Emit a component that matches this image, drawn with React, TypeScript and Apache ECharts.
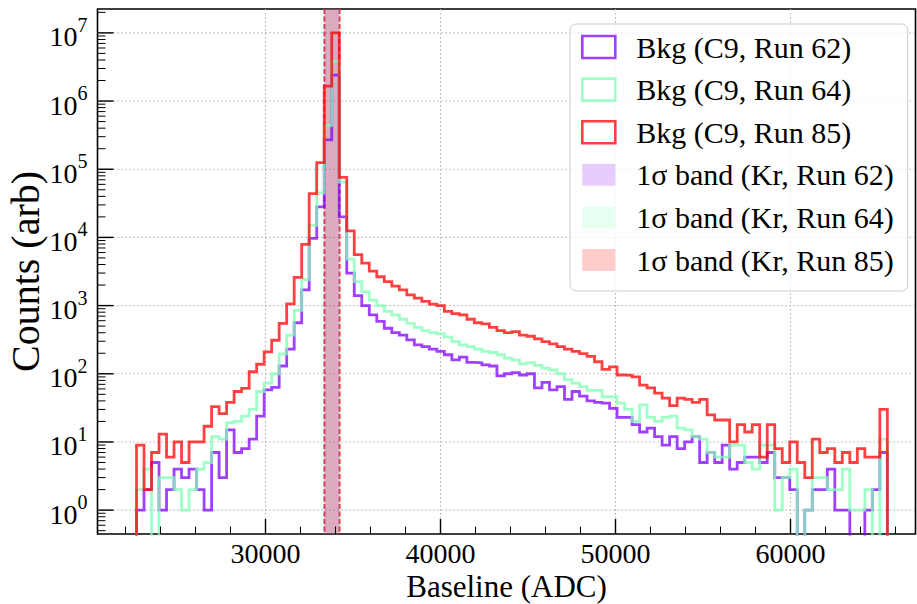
import React, { useEffect, useRef } from 'react';
import * as echarts from 'echarts';

const FONT = '"Liberation Serif", "Times New Roman", serif';

// histogram binning (100 bins between min and max baseline)
const binLow = 22629;
const binHigh = 65535;
const binCount = 100;

// counts per bin
const bkgRun62 = [
  1, 2, 5, 1, 2, 4, 3, 4, 2, 1,
  7, 3, 15, 7, 8, 11, 24, 58, 63, 130,
  230, 560, 1700, 9700, 28000, 270000, 2400000, 20000, 3000, 1400,
  1000, 730, 585, 465, 400, 370, 315, 265, 250, 230,
  213, 190, 160, 175, 147, 145, 135, 130, 93, 100,
  104, 96, 100, 62, 75, 58, 65, 42, 55, 47,
  40, 38, 37, 31, 23, 23, 18, 14, 16, 12,
  9, 12, 8, 10, 12, 5, 7, 5, 9, 4,
  5, 6, 6, 5, 7, 3, 3, 2, 0, 1,
  2, 2, 4, 1, 1, 0, 0, 1, 2, 7,
];
const bkgRun64 = [
  2, 4, 0, 3, 3, 2, 1, 2, 4, 5,
  12, 11, 19, 20, 24, 30, 55, 73, 100, 195,
  370, 850, 2400, 15000, 45000, 440000, 3800000, 65000, 4800, 2240,
  1600, 1200, 1000, 820, 730, 630, 550, 480, 430, 400,
  385, 345, 297, 265, 250, 230, 213, 205, 190, 170,
  160, 140, 145, 133, 121, 114, 100, 82, 73, 65,
  57, 57, 46, 46, 37, 30, 20, 35, 23, 20,
  23, 24, 16, 15, 12, 11, 7, 6, 6, 9,
  9, 5, 4, 9, 9, 1, 3, 4, 0, 1,
  3, 3, 2, 2, 4, 1, 1, 2, 0, 11,
];
const bkgRun85 = [
  9, 2, 7, 13, 6, 10, 5, 10, 10, 17,
  33, 26, 38, 55, 61, 107, 138, 210, 310, 550,
  1060, 2600, 7900, 44000, 125000, 1650000, 10000000, 76000, 12500, 5600,
  4200, 3200, 2650, 2250, 1930, 1700, 1440, 1290, 1150, 1050,
  1000, 820, 760, 730, 630, 560, 540, 480, 430, 400,
  415, 370, 355, 325, 297, 275, 250, 230, 213, 197,
  180, 150, 116, 126, 96, 95, 90, 68, 62, 52,
  44, 34, 44, 42, 38, 42, 25, 21, 21, 10,
  18, 14, 18, 6, 18, 8, 5, 10, 5, 3,
  11, 7, 8, 5, 7, 5, 8, 6, 6, 30,
];

// 1 sigma Kr bands [low, high]
const bandRun62 = [33340, 34200];
const bandRun64 = [33355, 34215];
const bandRun85 = [33380, 34250];

const histNames = ['Bkg (C9, Run 62)', 'Bkg (C9, Run 64)', 'Bkg (C9, Run 85)'];
const bandNames = ['1σ band (Kr, Run 62)', '1σ band (Kr, Run 64)', '1σ band (Kr, Run 85)'];
const runColors = ['#8000ff', '#80ffb4', '#ff0000'];

const xLabelTicks = [30000, 40000, 50000, 60000];
const xMinorTicks = [22000, 24000, 26000, 28000, 32000, 34000, 36000, 38000, 42000, 44000, 46000, 48000, 52000, 54000, 56000, 58000, 62000, 64000, 66000];
const yDecades = [0, 1, 2, 3, 4, 5, 6, 7];
const yMinorDecades = [-1, 0, 1, 2, 3, 4, 5, 6, 7];
const yMinorMantissas = [2, 3, 4, 5, 6, 7, 8, 9];

const X_MIN = 20400;
const X_MAX = 67143;
const Y_MIN_LOG = -0.35;
const Y_MAX_LOG = 7.35;
const FLOOR_LOG = -3;

function rgba(hex: string, a: number) {
  const r = parseInt(hex.slice(1, 3), 16);
  const g = parseInt(hex.slice(3, 5), 16);
  const b = parseInt(hex.slice(5, 7), 16);
  return `rgba(${r},${g},${b},${a})`;
}

function edge(i: number) {
  return binLow + ((binHigh - binLow) * i) / binCount;
}

function lg(v: number) {
  return v > 0 ? Math.log10(v) : FLOOR_LOG;
}

function stepPoints(vals: number[]) {
  const pts: number[][] = [[edge(0), FLOOR_LOG]];
  vals.forEach((v, i) => {
    pts.push([edge(i), lg(v)]);
    pts.push([edge(i + 1), lg(v)]);
  });
  pts.push([edge(vals.length), FLOOR_LOG]);
  return pts;
}

export default function App() {
  const ref = useRef<HTMLDivElement>(null);

  useEffect(() => {
    if (!ref.current) return;
    const chart = echarts.init(ref.current, undefined, { renderer: 'svg' });

    const hists = [bkgRun62, bkgRun64, bkgRun85];
    const bands = [bandRun62, bandRun64, bandRun85];

    const gridSeries = {
      type: 'custom',
      name: 'grid-lines',
      silent: true,
      z: 0,
      data: [[X_MIN, Y_MIN_LOG]],
      renderItem: (params: any, api: any) => {
        const cs = params.coordSys;
        const children: any[] = [];
        const dot = { stroke: '#b0b0b0', lineWidth: 1.1, lineDash: [1.4, 2.6] };
        xLabelTicks.forEach((v) => {
          const px = api.coord([v, 0])[0];
          children.push({ type: 'line', shape: { x1: px, y1: cs.y, x2: px, y2: cs.y + cs.height }, style: dot });
        });
        yDecades.forEach((d) => {
          const py = api.coord([X_MIN, d])[1];
          children.push({ type: 'line', shape: { x1: cs.x, y1: py, x2: cs.x + cs.width, y2: py }, style: dot });
        });
        return { type: 'group', children };
      },
    };

    const tickSeries = {
      type: 'custom',
      name: 'ticks',
      silent: true,
      z: 6,
      data: [[X_MIN, Y_MIN_LOG]],
      renderItem: (params: any, api: any) => {
        const cs = params.coordSys;
        const bottom = cs.y + cs.height;
        const children: any[] = [];
        const tick = { stroke: '#000', lineWidth: 1.4 };
        const minor = { stroke: '#000', lineWidth: 1.0 };
        xLabelTicks.forEach((v) => {
          const px = api.coord([v, 0])[0];
          children.push({ type: 'line', shape: { x1: px, y1: bottom, x2: px, y2: bottom - 15 }, style: tick });
        });
        xMinorTicks.forEach((v) => {
          const px = api.coord([v, 0])[0];
          children.push({ type: 'line', shape: { x1: px, y1: bottom, x2: px, y2: bottom - 7.5 }, style: minor });
        });
        yDecades.forEach((d) => {
          const py = api.coord([X_MIN, d])[1];
          children.push({ type: 'line', shape: { x1: cs.x, y1: py, x2: cs.x + 16, y2: py }, style: tick });
        });
        yMinorDecades.forEach((d) => {
          yMinorMantissas.forEach((m) => {
            const l = d + Math.log10(m);
            if (l < Y_MIN_LOG || l > Y_MAX_LOG) return;
            const py = api.coord([X_MIN, l])[1];
            children.push({ type: 'line', shape: { x1: cs.x, y1: py, x2: cs.x + 8, y2: py }, style: minor });
          });
        });
        return { type: 'group', children };
      },
    };

    const bandSeries = bands.map((b, i) => ({
      type: 'custom',
      name: bandNames[i],
      silent: true,
      z: 1,
      itemStyle: { color: rgba(runColors[i], 0.2) },
      data: [[b[0], b[1]]],
      renderItem: (params: any, api: any) => {
        const cs = params.coordSys;
        const x0 = api.coord([api.value(0), 0])[0];
        const x1 = api.coord([api.value(1), 0])[0];
        const edgeStyle = { stroke: rgba(runColors[i], i === 2 ? 0.7 : 0.55), lineWidth: 1.5, lineDash: [5, 2.5] };
        return {
          type: 'group',
          children: [
            { type: 'rect', shape: { x: x0, y: cs.y, width: x1 - x0, height: cs.height }, style: { fill: rgba(runColors[i], 0.2) } },
            { type: 'line', shape: { x1: x0, y1: cs.y, x2: x0, y2: cs.y + cs.height }, style: edgeStyle },
            { type: 'line', shape: { x1: x1, y1: cs.y, x2: x1, y2: cs.y + cs.height }, style: edgeStyle },
          ],
        };
      },
    }));

    const lineSeries = hists.map((h, i) => ({
      type: 'line',
      name: histNames[i],
      data: stepPoints(h),
      showSymbol: false,
      symbol: 'none',
      silent: true,
      clip: true,
      z: 3,
      itemStyle: { color: rgba(runColors[i], 0.75) },
      lineStyle: { color: runColors[i], opacity: 0.75, width: 2.8, join: 'miter', cap: 'butt' },
      emphasis: { disabled: true },
    }));

    const option: any = {
      animation: false,
      textStyle: { fontFamily: FONT },
      grid: {
        left: 97.5,
        top: 9,
        width: 818,
        height: 525,
        show: true,
        containLabel: false,
        outerBoundsMode: 'none',
        borderColor: '#000',
        borderWidth: 1.6,
        backgroundColor: 'transparent',
      },
      xAxis: {
        type: 'value',
        min: X_MIN,
        max: X_MAX,
        name: 'Baseline (ADC)',
        nameLocation: 'middle',
        nameGap: 38,
        nameMoveOverlap: false,
        nameTextStyle: { fontFamily: FONT, fontSize: 31, lineHeight: 28, color: '#000' },
        axisLine: { show: false },
        axisTick: { show: false },
        splitLine: { show: false },
        axisLabel: {
          customValues: xLabelTicks,
          formatter: (v: number) => String(v),
          fontFamily: FONT,
          fontSize: 28,
          lineHeight: 26,
          color: '#000',
          margin: 6,
        },
      },
      yAxis: {
        type: 'value',
        min: Y_MIN_LOG,
        max: Y_MAX_LOG,
        name: 'Counts (arb)',
        nameLocation: 'middle',
        nameGap: 52,
        nameMoveOverlap: false,
        nameTextStyle: { fontFamily: FONT, fontSize: 40, color: '#000' },
        axisLine: { show: false },
        axisTick: { show: false },
        splitLine: { show: false },
        axisLabel: {
          customValues: yDecades,
          formatter: (v: number) => `{b|10}{s|${Math.round(v)}}`,
          margin: 10,
          rich: {
            b: { fontFamily: FONT, fontSize: 28, color: '#000', lineHeight: 36, verticalAlign: 'bottom' },
            s: { fontFamily: FONT, fontSize: 20, color: '#000', lineHeight: 20, verticalAlign: 'top' },
          },
        },
      },
      legend: {
        orient: 'vertical',
        left: 570,
        top: 24,
        itemWidth: 33,
        itemHeight: 22,
        itemGap: 12.6,
        padding: [8, 14, 16, 11],
        backgroundColor: 'rgba(255,255,255,0.8)',
        borderColor: '#cccccc',
        borderWidth: 1,
        borderRadius: 6,
        selectedMode: false,
        textStyle: { fontFamily: FONT, fontSize: 30, color: '#000', padding: [0, 0, 0, 16] },
        data: [
          ...histNames.map((n, i) => ({
            name: n,
            icon: 'rect',
            itemStyle: { color: 'rgba(0,0,0,0)', borderColor: rgba(runColors[i], 0.75), borderWidth: 2.6 },
          })),
          ...bandNames.map((n, i) => ({
            name: n,
            icon: 'rect',
            itemStyle: { color: rgba(runColors[i], 0.2), borderWidth: 0 },
          })),
        ],
      },
      series: [gridSeries, ...bandSeries, ...lineSeries, tickSeries],
    };

    chart.setOption(option);
    return () => chart.dispose();
  }, []);

  return <div ref={ref} style={{ position: 'absolute', left: 0, top: 0, width: 917, height: 604 }} />;
}
